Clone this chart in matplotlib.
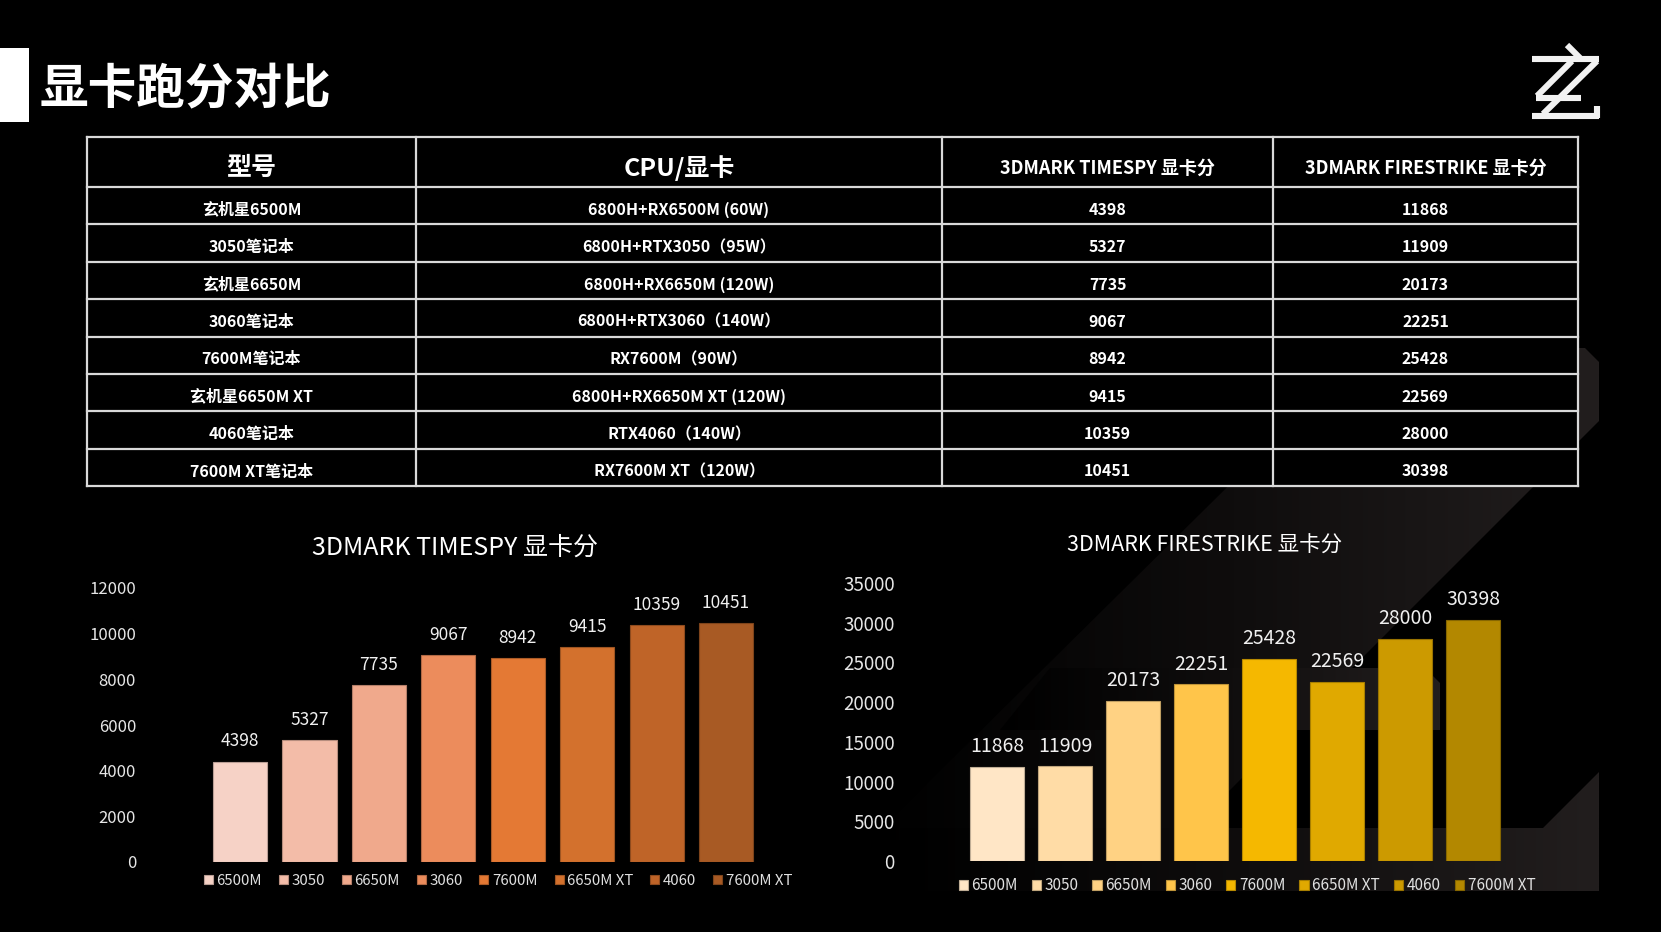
import matplotlib
matplotlib.use("Agg")
import numpy as np
import matplotlib.pyplot as plt
from matplotlib.patches import Polygon, Rectangle
from matplotlib.colors import to_rgb, LinearSegmentedColormap

plt.rcParams['font.family'] = ['Noto Sans CJK SC', 'DejaVu Sans']

# data
table_header = ['型号', 'CPU/显卡', '3DMARK TIMESPY 显卡分', '3DMARK FIRESTRIKE 显卡分']
row_names = ['玄机星6500M', '3050笔记本', '玄机星6650M', '3060笔记本',
             '7600M笔记本', '玄机星6650M XT', '4060笔记本', '7600M XT笔记本']
configs = ['6800H+RX6500M (60W)', '6800H+RTX3050（95W）', '6800H+RX6650M (120W)',
           '6800H+RTX3060（140W）', 'RX7600M（90W）', '6800H+RX6650M XT (120W)',
           'RTX4060（140W）', 'RX7600M XT（120W）']
models = ['6500M', '3050', '6650M', '3060', '7600M', '6650M XT', '4060', '7600M XT']
timespy = [4398, 5327, 7735, 9067, 8942, 9415, 10359, 10451]
firestrike = [11868, 11909, 20173, 22251, 25428, 22569, 28000, 30398]

ts_colors = ['#F6D2C6', '#F3BCA8', '#F0A98C', '#EC8C5C', '#E47934', '#D3712D', '#BF6428', '#A85A24']
fs_colors = ['#FFE6C6', '#FFDCA6', '#FFD283', '#FFC54A', '#F5B800', '#E0A900', '#CC9A00', '#B38800']

W, H = 1661, 932
fig = plt.figure(figsize=(W / 100, H / 100), dpi=100, facecolor='black')


def box(x0, y0, x1, y1):
    return [x0 / W, 1 - y1 / H, (x1 - x0) / W, (y1 - y0) / H]


# background canvas in pixel units
bg = fig.add_axes([0, 0, 1, 1])
bg.set_xlim(0, W)
bg.set_ylim(H, 0)
bg.axis('off')
bg.set_facecolor('black')

# faint big "Z" decoration, fading towards the left
fade = LinearSegmentedColormap.from_list('fade', ['#000000', '#0f0d0d', '#221e1e'])


def faint_shape(pts):
    poly = Polygon(pts, closed=True, facecolor='none', edgecolor='none')
    bg.add_patch(poly)
    xs = [p[0] for p in pts]
    ys = [p[1] for p in pts]
    grad = np.linspace(0, 1, 256).reshape(1, -1)
    im = bg.imshow(grad, cmap=fade, extent=(min(xs), max(xs), max(ys), min(ys)),
                   aspect='auto', zorder=0.5, interpolation='bilinear')
    im.set_clip_path(poly)


faint_shape([(1368, 348), (1585, 348), (1599, 362), (1599, 421), (1180, 840), (870, 840)])
faint_shape([(1050, 668), (1425, 668), (1440, 683), (1440, 730), (1000, 730)])
faint_shape([(900, 828), (1543, 828), (1599, 772), (1599, 891), (900, 891)])
bg.set_xlim(0, W)
bg.set_ylim(H, 0)

# title
bg.add_patch(Rectangle((0, 48), 29, 74, color='white', lw=0))
bg.text(40, 90, '显卡跑分对比', color='white', fontsize=35, fontweight='bold', va='center', ha='left')

# logo
logo = dict(color='#f2f2f2', lw=4.4, solid_capstyle='butt')
bg.plot([1532, 1599], [59, 59], **logo)
bg.plot([1567, 1580], [45, 58], **logo)
bg.plot([1597, 1543], [61, 114], **logo)
bg.plot([1572, 1537], [61, 96], **logo)
bg.plot([1536, 1581], [98, 98], **logo)
bg.plot([1532, 1599], [116, 116], **logo)
bg.plot([1597, 1597], [118, 106], **logo)

# table
col_x = [87, 416, 942, 1273, 1578]
row_y = [137, 187] + [187 + 37.4 * (i + 1) for i in range(8)]
bg.add_patch(Rectangle((col_x[0], row_y[0]), col_x[-1] - col_x[0], row_y[-1] - row_y[0],
                       color='black', lw=0, zorder=2))
line_kw = dict(color='#d9d9d9', lw=1.6, zorder=3)
for x in col_x:
    bg.plot([x, x], [row_y[0], row_y[-1]], **line_kw)
for y in row_y:
    bg.plot([col_x[0], col_x[-1]], [y, y], **line_kw)

for j, txt in enumerate(table_header):
    cx = (col_x[j] + col_x[j + 1]) / 2
    cy = (row_y[0] + row_y[1]) / 2 + 6
    fs = 18 if j < 2 else 13
    bg.text(cx, cy, txt, color='white', fontsize=fs, fontweight='bold', ha='center', va='center', zorder=4)

for i in range(len(row_names)):
    cells = [row_names[i], configs[i], str(timespy[i]), str(firestrike[i])]
    cy = (row_y[i + 1] + row_y[i + 2]) / 2 + 4
    for j, txt in enumerate(cells):
        cx = (col_x[j] + col_x[j + 1]) / 2
        bg.text(cx, cy, txt, color='white', fontsize=11.5, fontweight='bold', ha='center', va='center', zorder=4)


def darker(c, f=0.75):
    r, g, b = to_rgb(c)
    return (r * f, g * f, b * f)


def bar_chart(rect, c0, unit, vals, colors, ymax, step, tick_pad, lab_size, lab_pad):
    ax = fig.add_axes(box(*rect))
    ax.set_facecolor('none')
    for i, (m, v, c) in enumerate(zip(models, vals, colors)):
        b = ax.bar(i, v, width=0.78, color=c, edgecolor=darker(c), linewidth=0.8, label=m)
        ax.bar_label(b, labels=[str(v)], padding=lab_pad, color='#f0f0f0', fontsize=lab_size)
    ax.set_xlim((rect[0] - c0) / unit, (rect[2] - c0) / unit)
    ax.set_ylim(0, ymax)
    ax.set_yticks(range(0, ymax + 1, step))
    ax.set_xticks([])
    ax.tick_params(axis='y', length=0, pad=tick_pad, labelcolor='#e6e6e6', labelsize=12)
    for s in ax.spines.values():
        s.set_visible(False)
    return ax


ax1 = bar_chart((150, 588, 800, 862), 240, 69.43, timespy, ts_colors, 12000, 2000, 10, 12.5, 8)
ax2 = bar_chart((910, 583, 1560, 861), 997, 68.0, firestrike, fs_colors, 35000, 5000, 11, 14, 7)
ax2.tick_params(axis='y', labelsize=13.5)

fig.text(455 / W, 1 - 548 / H, '3DMARK TIMESPY 显卡分', color='white', fontsize=18, ha='center', va='center')
fig.text(1205 / W, 1 - 546 / H, '3DMARK FIRESTRIKE 显卡分', color='white', fontsize=15.5, ha='center', va='center')

leg_kw = dict(ncol=8, frameon=False, handlelength=0.6, handleheight=0.6, handletextpad=0.25,
              loc='center', borderaxespad=0)
ax1.legend(bbox_to_anchor=(498 / W, 1 - 881 / H), bbox_transform=fig.transFigure,
           columnspacing=1.12, fontsize=10.8, labelcolor='#e0e0e0', **leg_kw)
ax2.legend(bbox_to_anchor=(1247 / W, 1 - 886 / H), bbox_transform=fig.transFigure,
           columnspacing=0.9, fontsize=11, labelcolor='#e0e0e0', **leg_kw)

fig.savefig('out.png', dpi=100, facecolor='black')
